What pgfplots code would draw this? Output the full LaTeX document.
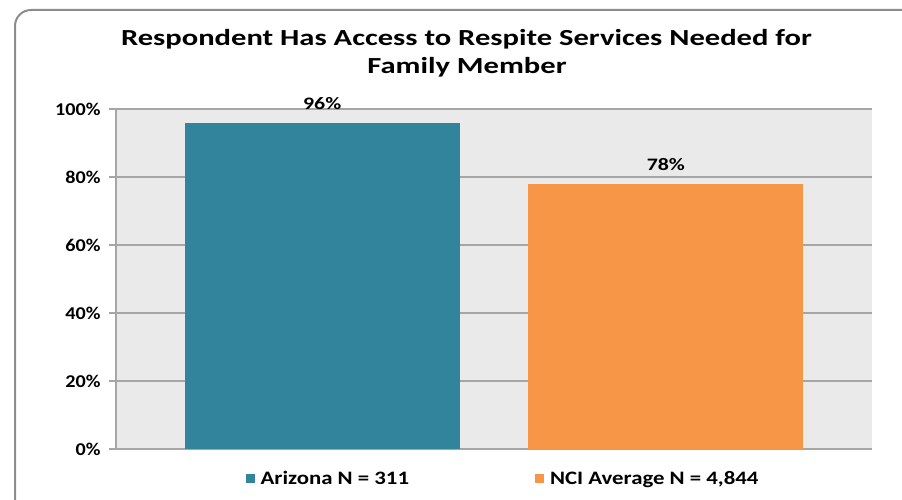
\documentclass[border=0pt]{standalone}
\usepackage{pgfplots}
\pgfplotsset{compat=1.18}
\usepackage{fontspec}
\setmainfont{Carlito}
\newfontfamily\titlefont[FakeStretch=1.33]{Carlito}
\newfontfamily\labfont[FakeStretch=1.25]{Carlito}
\newfontfamily\tickfont[FakeStretch=1.12]{Carlito}
\newfontfamily\legfont[FakeStretch=1.2]{Carlito}
\definecolor{teal}{HTML}{31849B}
\definecolor{orng}{HTML}{F79646}
\definecolor{bg}{HTML}{EAEAEA}
\definecolor{grd}{HTML}{A6A6A6}
\definecolor{frm}{HTML}{8C8C8C}
\begin{document}
\begin{tikzpicture}[x=1pt,y=1pt]
\useasboundingbox (0,0) rectangle (902,500);
\draw[frm,line width=2pt,rounded corners=16pt] (15,-20) -- (15,490) -- (920,490);
\node[font=\titlefont\bfseries\fontsize{23}{27}\selectfont,anchor=base,inner sep=0pt] at (466.5,454.3) {Respondent Has Access to Respite Services Needed for};
\node[font=\titlefont\bfseries\fontsize{23}{27}\selectfont,anchor=base,inner sep=0pt] at (467,426.7) {Family Member};
\begin{axis}[
  at={(116pt,51pt)}, anchor=south west,
  scale only axis, width=756pt, height=340pt,
  ymin=0, ymax=100, xmin=-0.6, xmax=1.6,
  axis background/.style={fill=bg},
  ybar, bar width=0.8,
  xtick=\empty,
  ytick={0,20,40,60,80,100},
  yticklabel={\pgfmathprintnumber{\tick}\%},
  /pgf/number format/assume math mode=true,
  tick label style={font=\tickfont\bfseries\fontsize{18}{20}\selectfont},
  yticklabel style={xshift=-5pt},
  ymajorgrids, grid style={grd,line width=1.2pt},
  axis x line*=bottom, axis y line*=left,
  axis line style={grd,line width=1.2pt,-},
  ytick style={grd,line width=1.2pt},
  tick align=outside, major tick length=7pt,
  nodes near coords={\pgfmathprintnumber{\pgfplotspointmeta}\%},
  nodes near coords style={font=\labfont\bfseries\fontsize{17.5}{20}\selectfont,text=black,anchor=base,yshift=13pt,/pgf/number format/assume math mode=true},
  legend style={at={(0.512,-0.052)},anchor=north,draw=none,fill=none,legend columns=2,
     font=\legfont\bfseries\fontsize{19}{22}\selectfont,
     /tikz/every odd column/.append style={column sep=4pt},
     /tikz/every even column/.append style={column sep=124pt}},
  legend image code/.code={\fill[#1] (0pt,-4.5pt) rectangle (9pt,4.5pt);},
]
\addplot[fill=teal,draw=none,bar shift=0pt] coordinates {(0,96)};
\addlegendentry{Arizona N = 311}
\addplot[fill=orng,draw=none,bar shift=0pt] coordinates {(1,78)};
\addlegendentry{NCI Average N = 4,844}
\end{axis}
\end{tikzpicture}
\end{document}
